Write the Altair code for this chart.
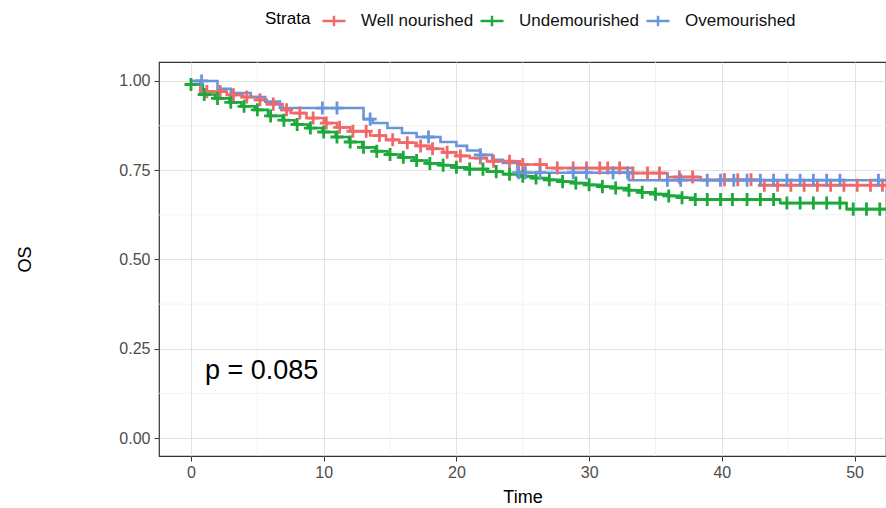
import altair as alt
import pandas as pd

groups = ["Well nourished", "Undemourished", "Ovemourished"]
colors = ["#F0696A", "#1DA83C", "#6A94DC"]

# Step curves (time of drop, survival after drop)
well_t = [0, 0.7, 2.7, 3.9, 5.0, 5.7, 6.9, 7.5, 8.7, 10.0, 11.0, 12.0, 13.5, 14.7, 15.7, 17.0,
          18.0, 19.0, 20.0, 21.0, 22.3, 24.8, 26.8, 33.3, 35.9, 38.4, 42.9]
well_s = [1.0, 0.970, 0.961, 0.955, 0.947, 0.935, 0.919, 0.910, 0.896, 0.882, 0.870, 0.859,
          0.847, 0.835, 0.827, 0.818, 0.810, 0.800, 0.790, 0.784, 0.775, 0.766, 0.756, 0.742,
          0.731, 0.723, 0.708]

under_t = [0, 0.9, 1.8, 2.9, 3.8, 4.8, 5.8, 6.9, 7.8, 8.8, 9.9, 10.9, 11.9, 12.9, 13.9, 14.8,
           15.8, 16.8, 17.8, 18.8, 19.8, 20.8, 22.3, 23.5, 24.8, 25.8, 26.8, 27.8, 28.8, 29.8,
           30.8, 31.8, 32.9, 33.9, 34.9, 35.9, 36.9, 37.9, 44.4, 49.4]
under_s = [0.990, 0.962, 0.951, 0.940, 0.929, 0.919, 0.902, 0.890, 0.878, 0.868, 0.857, 0.843,
           0.829, 0.814, 0.803, 0.794, 0.786, 0.777, 0.769, 0.764, 0.758, 0.753, 0.746, 0.739,
           0.733, 0.728, 0.723, 0.718, 0.714, 0.709, 0.704, 0.700, 0.694, 0.688, 0.683, 0.678,
           0.673, 0.668, 0.658, 0.641]

over_t = [0, 2.0, 3.0, 4.5, 5.6, 6.7, 13.0, 13.7, 14.8, 15.9, 17.0, 18.8, 20.0, 20.8, 21.8,
          22.7, 23.5, 24.6, 33.0]
over_s = [1.0, 0.978, 0.966, 0.955, 0.942, 0.924, 0.893, 0.882, 0.868, 0.854, 0.843, 0.829,
          0.818, 0.805, 0.793, 0.779, 0.770, 0.743, 0.722]

# Censoring times
well_c = [1.2, 2.2, 3.2, 4.2, 5.2, 6.2, 7.2, 8.2, 9.2, 10.2, 11.2, 12.2, 13.2, 14.2, 15.2, 16.3,
          17.3, 18.2, 19.3, 20.3, 21.8, 22.8, 24.0, 25.0, 26.3, 27.6, 28.8, 29.8, 30.8, 31.4,
          32.3, 33.3, 34.4, 35.3, 36.8, 37.8, 40.2, 41.2, 42.2, 43.2, 44.2, 45.2, 46.2, 47.2,
          48.2, 49.2, 50.2, 51.2, 52.1]
under_c = [0.0, 1.0, 2.0, 3.0, 4.0, 5.0, 6.0, 7.0, 8.0, 9.0, 10.0, 11.0, 12.0, 13.0, 14.0, 15.0,
           16.0, 17.0, 18.0, 19.0, 20.0, 21.0, 22.0, 23.0, 24.0, 25.0, 26.0, 27.0, 28.0, 29.0,
           30.0, 31.0, 32.0, 33.0, 34.0, 35.0, 36.0, 37.0, 38.0, 38.9, 39.9, 40.8, 41.9, 42.9,
           43.9, 44.9, 45.9, 46.9, 47.9, 48.9, 49.9, 50.9, 51.9]
over_c = [0.8, 9.9, 11.0, 13.5, 17.9, 21.8, 24.7, 25.2, 26.3, 28.8, 29.8, 31.8, 32.9, 35.9,
          36.9, 38.9, 39.9, 40.9, 41.9, 42.9, 43.9, 44.9, 45.9, 46.9, 47.9, 48.9, 51.8]

x_ticks = [0, 10, 20, 30, 40, 50]
y_ticks = [0.0, 0.25, 0.50, 0.75, 1.0]
x_minor = [5, 15, 25, 35, 45]
y_minor = [0.125, 0.375, 0.625, 0.875]
p_text = ["p = 0.085"]
p_pos = [1.05, 0.188]

END_T = 53.5
curves = [(groups[0], well_t, well_s, well_c),
          (groups[1], under_t, under_s, under_c),
          (groups[2], over_t, over_s, over_c)]

step_rows, cens_rows = [], []
for gi, (g, ts, ss, cs) in enumerate(curves):
    for t, s in zip(ts, ss):
        step_rows.append({"time": t, "surv": s, "strata": g, "k": gi})
    step_rows.append({"time": END_T, "surv": ss[-1], "strata": g, "k": gi})
    for c in cs:
        s_at = ss[0]
        for t, s in zip(ts, ss):
            if t <= c:
                s_at = s
        cens_rows.append({"time": c, "surv": s_at, "strata": g, "k": gi})

steps = pd.DataFrame(step_rows)
cens = pd.DataFrame(cens_rows).sort_values("k", kind="stable")

xs = alt.Scale(domain=[-2.41, 52.37], nice=False, zero=False)
ys = alt.Scale(domain=[-0.0504, 1.053], nice=False, zero=False)
cs_scale = alt.Scale(domain=groups, range=colors)

cross = "M-1,0L1,0M0,-1L0,1"
leg = alt.Legend(orient="none", legendX=106, legendY=-54, direction="horizontal",
                 title="Strata", titleOrient="left", titleFontSize=17, titleFontWeight="normal",
                 titleColor="#000000", titlePadding=10, labelFontSize=17, labelColor="#111111",
                 symbolType="M-1,0L1,0M0,-0.45L0,0.45", symbolSize=529, symbolStrokeWidth=2.4,
                 symbolFillColor="transparent", labelOffset=14, columnPadding=1)

xaxis = alt.Axis(values=x_ticks, title="Time", grid=True, gridColor="#E2E2E2", domain=False,
                 tickColor="#333333", tickSize=5, labelFontSize=16, labelColor="#4D4D4D",
                 labelPadding=3, titleFontSize=18, titleFontWeight="normal", titleColor="#000000",
                 titleY=41, titleBaseline="middle")
yaxis = alt.Axis(values=y_ticks, format=".2f", title="OS", grid=True, gridColor="#E2E2E2",
                 domain=False, tickColor="#333333", tickSize=5, labelFontSize=16,
                 labelColor="#4D4D4D", labelPadding=4, titleFontSize=18, titleFontWeight="normal",
                 titleColor="#000000", titleX=-134, titleY=197, titleAngle=-90,
                 titleBaseline="middle", titleAlign="center")

minor_x = alt.Chart(pd.DataFrame({"time": x_minor})).mark_rule(
    color="#EFEFEF", strokeWidth=0.8).encode(x=alt.X("time:Q", scale=xs, axis=xaxis))
minor_y = alt.Chart(pd.DataFrame({"surv": y_minor})).mark_rule(
    color="#EFEFEF", strokeWidth=0.8).encode(y=alt.Y("surv:Q", scale=ys, axis=yaxis))

lines = alt.Chart(steps).mark_line(interpolate="step-after", strokeWidth=2.6, clip=True).encode(
    x=alt.X("time:Q", scale=xs, axis=xaxis),
    y=alt.Y("surv:Q", scale=ys, axis=yaxis),
    color=alt.Color("strata:N", scale=cs_scale, legend=leg, sort=groups),
    detail="strata:N",
    order=alt.Order("time:Q"),
)

points = alt.Chart(cens).mark_point(shape=cross, filled=False, size=170, strokeWidth=2.8,
                                    opacity=1, clip=True).encode(
    x=alt.X("time:Q", scale=xs, axis=xaxis),
    y=alt.Y("surv:Q", scale=ys, axis=yaxis),
    color=alt.Color("strata:N", scale=cs_scale, legend=leg, sort=groups),
)

ptxt = alt.Chart(pd.DataFrame({"time": [p_pos[0]], "surv": [p_pos[1]], "t": p_text})).mark_text(
    align="left", baseline="middle", fontSize=27, color="#000000").encode(
    x=alt.X("time:Q", scale=xs, axis=xaxis), y=alt.Y("surv:Q", scale=ys, axis=yaxis), text="t:N")

chart = alt.layer(minor_x, minor_y, lines, points, ptxt).properties(
    width=727, height=394,
    autosize=alt.AutoSizeParams(type="none"),
    padding={"left": 159, "top": 62, "right": 0, "bottom": 52},
).configure(font="Liberation Sans").configure_view(stroke="#333333", strokeWidth=1.2)

chart.save("out.html", embed_options={"renderer": "svg", "actions": False})
